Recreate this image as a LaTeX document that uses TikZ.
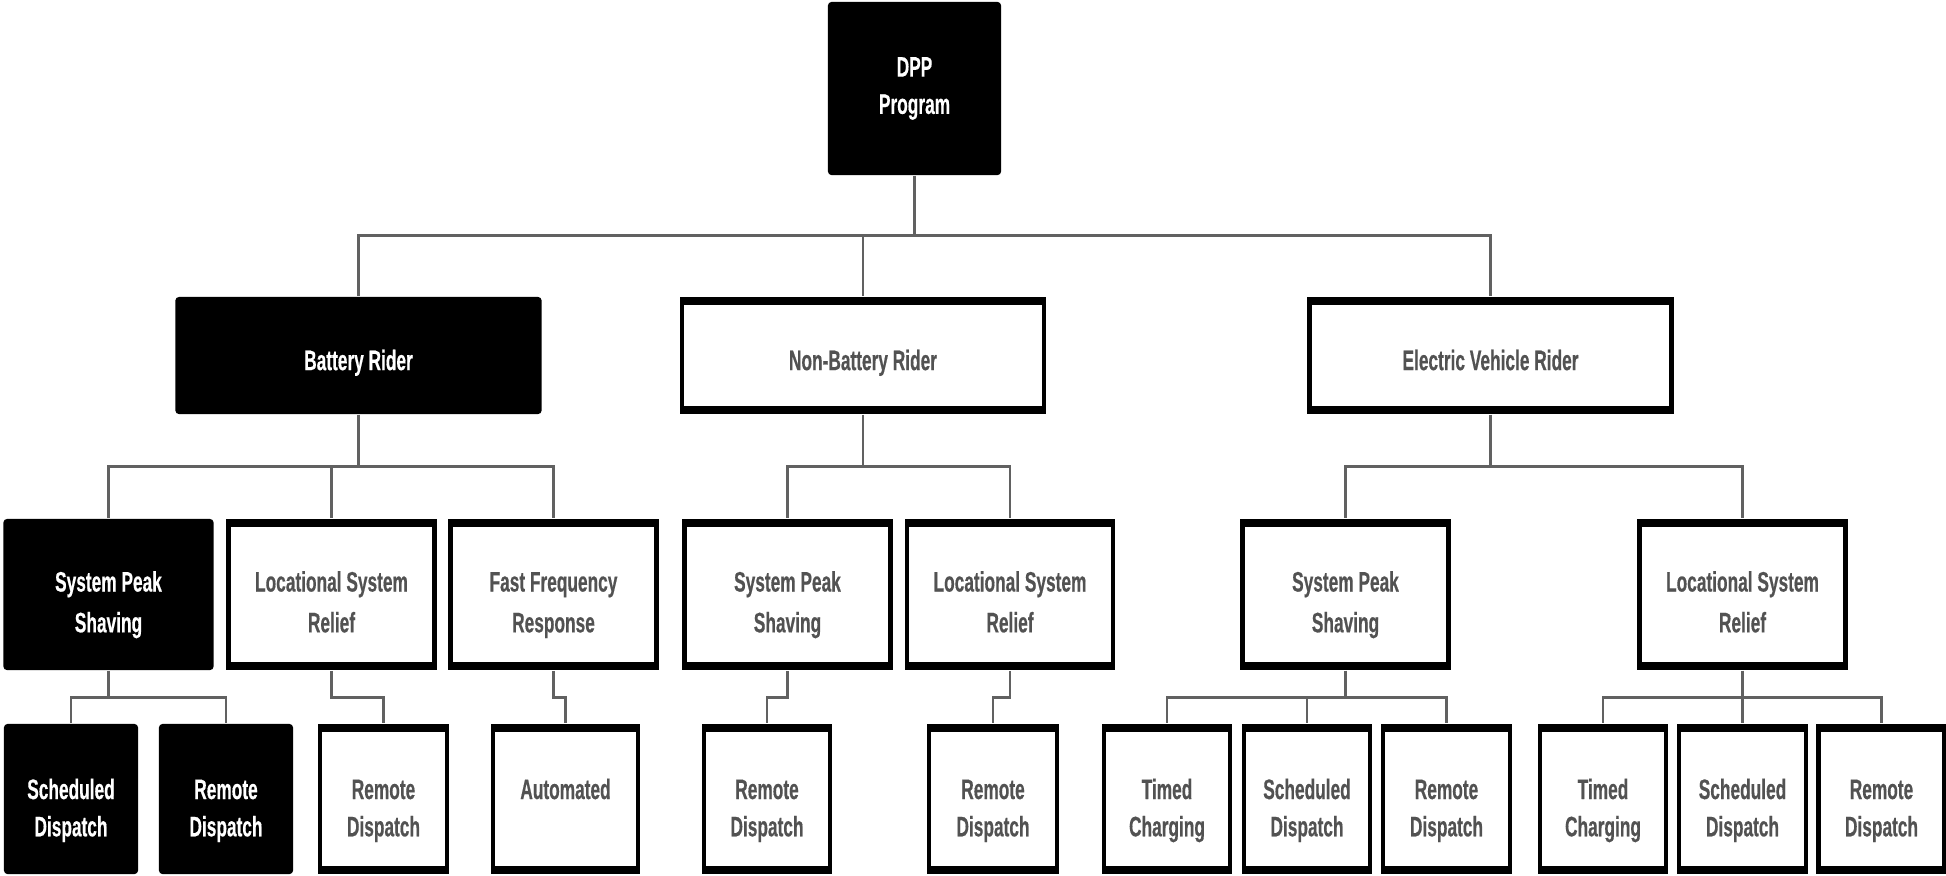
\documentclass[tikz,border=0pt]{standalone}
\usepackage{fontspec}
\setmainfont{Liberation Sans}[FakeStretch=0.615,FakeBold=0.4]
\begin{document}
\begin{tikzpicture}[x=0.01cm,y=-0.01cm,
  txt/.style={font=\bfseries\fontsize{8}{10.6}\selectfont,align=center,inner sep=0pt},
  dark/.style={txt,fill=black,rounded corners=1pt,text=white},
  light/.style={txt,fill=black,text=black!68,
    path picture={\fill[white] ([xshift=0.045cm,yshift=-0.08cm]path picture bounding box.north west) rectangle ([xshift=-0.045cm,yshift=0.08cm]path picture bounding box.south east);}},
  lift/.style={execute at begin node={\rule[-2pt]{0pt}{#1}}},
  rootbox/.style={minimum width=1.73cm,minimum height=1.73cm},
  riderbox/.style={minimum width=3.66cm,minimum height=1.17cm,lift=12.3pt},
  usebox/.style={minimum width=2.10cm,minimum height=1.51cm,lift=25.5pt,
    font=\bfseries\fontsize{8}{11.6}\selectfont},
  modebox/.style={minimum width=1.32cm,minimum height=1.50cm,lift=25.2pt},
  link/.style={draw=black!62,line width=0.75pt}]
\useasboundingbox (0,0) rectangle (1946,875);
\node[dark,rootbox] (dpp) at (914.5,88.5) {DPP\\Program};
\node[dark,riderbox] (battery) at (358.5,355.5) {Battery Rider};
\node[light,riderbox] (nonbattery) at (863,355.5) {Non-Battery Rider};
\node[light,riderbox] (ev) at (1490.5,355.5) {Electric Vehicle Rider};
\node[dark,usebox] (bsps) at (108.5,594.5) {System Peak\\Shaving};
\node[light,usebox] (blsr) at (331.5,594.5) {Locational System\\Relief};
\node[light,usebox] (bffr) at (553.5,594.5) {Fast Frequency\\Response};
\node[light,usebox] (nsps) at (787.5,594.5) {System Peak\\Shaving};
\node[light,usebox] (nlsr) at (1010,594.5) {Locational System\\Relief};
\node[light,usebox] (esps) at (1345.5,594.5) {System Peak\\Shaving};
\node[light,usebox] (elsr) at (1742.5,594.5) {Locational System\\Relief};
\node[dark,modebox,minimum width=1.34cm] (bsched) at (71,799) {Scheduled\\Dispatch};
\node[dark,modebox,minimum width=1.34cm] (bremote) at (226,799) {Remote\\Dispatch};
\node[light,modebox,minimum width=1.31cm] (blremote) at (383.5,799) {Remote\\Dispatch};
\node[light,modebox,minimum width=1.49cm] (bauto) at (565.5,799) {Automated\\~};
\node[light,modebox,minimum width=1.30cm] (nremote) at (767,799) {Remote\\Dispatch};
\node[light,modebox] (nlremote) at (993,799) {Remote\\Dispatch};
\node[light,modebox,minimum width=1.30cm] (etimed) at (1167,799) {Timed\\Charging};
\node[light,modebox,minimum width=1.30cm] (esched) at (1307,799) {Scheduled\\Dispatch};
\node[light,modebox,minimum width=1.31cm] (eremote) at (1446.5,799) {Remote\\Dispatch};
\node[light,modebox,minimum width=1.30cm] (eltimed) at (1603,799) {Timed\\Charging};
\node[light,modebox,minimum width=1.31cm] (elsched) at (1742.5,799) {Scheduled\\Dispatch};
\node[light,modebox,minimum width=1.30cm] (elremote) at (1881.5,799) {Remote\\Dispatch};
\draw[link] (dpp.south) -- ++(0,60) -| (battery.north);
\draw[link] (dpp.south) -- ++(0,60) -| (nonbattery.north);
\draw[link] (dpp.south) -- ++(0,60) -| (ev.north);
\draw[link] (battery.south) -- ++(0,52) -| (bsps.north);
\draw[link] (battery.south) -- ++(0,52) -| (blsr.north);
\draw[link] (battery.south) -- ++(0,52) -| (bffr.north);
\draw[link] (nonbattery.south) -- ++(0,52) -| (nsps.north);
\draw[link] (nonbattery.south) -- ++(0,52) -| (nlsr.north);
\draw[link] (ev.south) -- ++(0,52) -| (esps.north);
\draw[link] (ev.south) -- ++(0,52) -| (elsr.north);
\draw[link] (bsps.south) -- ++(0,27) -| (bsched.north);
\draw[link] (bsps.south) -- ++(0,27) -| (bremote.north);
\draw[link] (blsr.south) -- ++(0,27) -| (blremote.north);
\draw[link] (bffr.south) -- ++(0,27) -| (bauto.north);
\draw[link] (nsps.south) -- ++(0,27) -| (nremote.north);
\draw[link] (nlsr.south) -- ++(0,27) -| (nlremote.north);
\draw[link] (esps.south) -- ++(0,27) -| (etimed.north);
\draw[link] (esps.south) -- ++(0,27) -| (esched.north);
\draw[link] (esps.south) -- ++(0,27) -| (eremote.north);
\draw[link] (elsr.south) -- ++(0,27) -| (eltimed.north);
\draw[link] (elsr.south) -- ++(0,27) -| (elsched.north);
\draw[link] (elsr.south) -- ++(0,27) -| (elremote.north);
\end{tikzpicture}
\end{document}
